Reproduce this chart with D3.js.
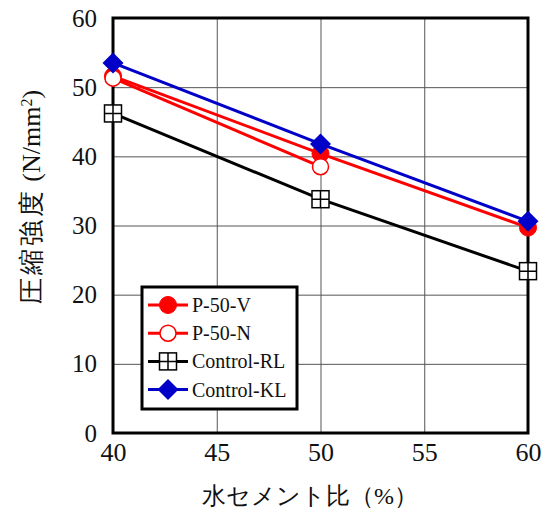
<!DOCTYPE html>
<meta charset="utf-8">
<script src="https://d3js.org/d3.v7.min.js"></script>
<body style="margin:0">
<div id="chart"></div>
<script>
// data
const wcRatio = [40, 50, 60];
const p50V = [51.6, 40.4, 29.7];
const p50N = [51.3, 38.5, null];
const controlRL = [46.2, 33.8, 23.4];
const controlKL = [53.5, 41.8, 30.6];
const xTicks = [40, 45, 50, 55, 60];
const yTicks = [0, 10, 20, 30, 40, 50, 60];

const series = [
  {name: "P-50-V", values: p50V, color: "#ff0000", marker: "dot"},
  {name: "P-50-N", values: p50N, color: "#ff0000", marker: "circle"},
  {name: "Control-RL", values: controlRL, color: "#000000", marker: "box"},
  {name: "Control-KL", values: controlKL, color: "#0000c8", marker: "diamond"}
];
// order marks are painted in
const drawOrder = ["Control-RL", "P-50-V", "P-50-N", "Control-KL"];

const FONT = "Liberation Serif";

const W = 550, H = 513;
const margin = {top: 18, right: 22, bottom: 80, left: 113};
const width = W - margin.left - margin.right,
      height = H - margin.top - margin.bottom;

const svg = d3.select("#chart")
  .append("svg")
    .attr("width", W)
    .attr("height", H);

const g = svg.append("g")
  .attr("transform", `translate(${margin.left},${margin.top})`);

const x = d3.scaleLinear().domain([40, 60]).range([0, width]);
const y = d3.scaleLinear().domain([0, 60]).range([height, 0]);

// grid
g.append("g")
  .call(d3.axisBottom(x).tickValues(xTicks).tickSize(height).tickFormat(""))
  .call(a => a.select(".domain").remove())
  .selectAll("line").attr("stroke", "#555").attr("stroke-width", 1);
g.append("g")
  .call(d3.axisRight(y).tickValues(yTicks).tickSize(width).tickFormat(""))
  .call(a => a.select(".domain").remove())
  .selectAll("line").attr("stroke", "#555").attr("stroke-width", 1);

// tick labels
g.append("g")
  .attr("transform", `translate(0,${height})`)
  .call(d3.axisBottom(x).tickValues(xTicks).tickSize(0).tickPadding(10))
  .call(a => a.select(".domain").remove())
  .selectAll("text")
    .attr("font-family", FONT)
    .attr("font-size", 26)
    .attr("fill", "#111");
g.append("g")
  .call(d3.axisLeft(y).tickValues(yTicks).tickSize(0).tickPadding(16))
  .call(a => a.select(".domain").remove())
  .selectAll("text")
    .attr("font-family", FONT)
    .attr("font-size", 25)
    .attr("fill", "#111");

// frame
g.append("rect")
  .attr("width", width)
  .attr("height", height)
  .attr("fill", "none")
  .attr("stroke", "#000")
  .attr("stroke-width", 3);

function drawMarker(sel, type, color) {
  if (type === "dot") {
    sel.append("circle").attr("r", 8.5).attr("fill", color).attr("stroke", color);
  } else if (type === "circle") {
    sel.append("circle").attr("r", 8).attr("fill", "#fff").attr("stroke", color).attr("stroke-width", 1.5);
  } else if (type === "box") {
    const s = 8.5;
    sel.append("rect").attr("x", -s).attr("y", -s).attr("width", 2 * s).attr("height", 2 * s)
      .attr("fill", "#fff").attr("stroke", color).attr("stroke-width", 1.5);
    sel.append("path").attr("d", `M${-s},0H${s}M0,${-s}V${s}`)
      .attr("stroke", color).attr("stroke-width", 1.5);
  } else if (type === "diamond") {
    const s = 10.5;
    sel.append("path").attr("d", `M0,${-s}L${s},0L0,${s}L${-s},0Z`).attr("fill", color);
  }
}

const line = d3.line()
  .defined(d => d.v != null)
  .x(d => x(d.x))
  .y(d => y(d.v));

drawOrder.forEach(name => {
  const s = series.find(d => d.name === name);
  const pts = wcRatio.map((xv, i) => ({x: xv, v: s.values[i]}));
  g.append("path")
    .datum(pts)
    .attr("fill", "none")
    .attr("stroke", s.color)
    .attr("stroke-width", 3)
    .attr("d", line);
  g.selectAll(null)
    .data(pts.filter(d => d.v != null))
    .join("g")
      .attr("transform", d => `translate(${x(d.x)},${y(d.v)})`)
      .each(function() { drawMarker(d3.select(this), s.marker, s.color); });
});

// legend
const legend = svg.append("g").attr("transform", "translate(142,287)");
legend.append("rect")
  .attr("width", 155)
  .attr("height", 122)
  .attr("fill", "#fff")
  .attr("stroke", "#000")
  .attr("stroke-width", 3);
const rows = legend.selectAll("g.row")
  .data(series)
  .join("g")
    .attr("class", "row")
    .attr("transform", (d, i) => `translate(0,${18 + i * 28.2})`);
rows.append("line")
  .attr("x1", 6).attr("x2", 46)
  .attr("stroke", d => d.color)
  .attr("stroke-width", 3);
rows.each(function(d) {
  const m = d3.select(this).append("g").attr("transform", "translate(26,0)");
  drawMarker(m, d.marker, d.color);
});
rows.append("text")
  .attr("x", 50)
  .attr("y", 7)
  .attr("font-family", FONT)
  .attr("font-size", 20)
  .attr("fill", "#111")
  .text(d => d.name);

// axis titles
svg.append("text")
  .attr("x", 310)
  .attr("y", 504)
  .attr("text-anchor", "middle")
  .attr("font-family", "serif")
  .attr("font-size", 24)
  .attr("fill", "#111")
  .text("水セメント比（%）");

const yt = svg.append("text")
  .attr("transform", "translate(40,197) rotate(-90)")
  .attr("text-anchor", "middle")
  .attr("font-family", "serif")
  .attr("font-size", 26)
  .attr("fill", "#111");
yt.append("tspan").attr("letter-spacing", 3).text("圧縮強度");
yt.append("tspan").attr("font-family", FONT).text(" (N/mm");
yt.append("tspan").attr("font-family", FONT).attr("baseline-shift", "super").attr("font-size", 16).text("2");
yt.append("tspan").attr("font-family", FONT).text(")");
</script>
</body>
